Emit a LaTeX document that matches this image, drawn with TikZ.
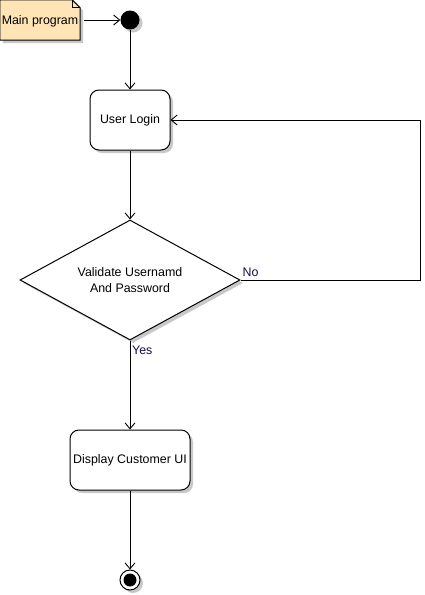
\documentclass[tikz,border=0pt]{standalone}
\usepackage{fontspec}
\setmainfont{Liberation Sans}
\usetikzlibrary{arrows.meta,shapes.geometric,shadows}
\definecolor{notefill}{HTML}{FFE4B5}
\definecolor{shadowgray}{HTML}{C8C8C8}
\definecolor{lbltext}{HTML}{101040}
\tikzset{
  every node/.style={font=\fontsize{12.4}{15}\selectfont},
  myshadow/.style={drop shadow={shadow xshift=3pt,shadow yshift=-3pt,fill=shadowgray,opacity=1}},
  actbox/.style={draw=black,line width=1pt,fill=white,rounded corners=9pt,minimum width=80pt,minimum height=60pt,inner sep=0pt,myshadow},
  decbox/.style={draw=black,line width=1pt,fill=white,diamond,aspect=1.8333,minimum width=220pt,minimum height=120pt,inner sep=0pt,align=center,myshadow},
  flow/.style={draw=black,line width=0.9pt,-{Straight Barb[length=6pt,width=10pt]}},
  lbl/.style={inner sep=1pt,font=\fontsize{12.4}{15}\selectfont,text=lbltext}
}
\begin{document}
\begin{tikzpicture}[x=1pt,y=-1pt]
\useasboundingbox (0,0) rectangle (425,595);
% note
\node[minimum width=80pt,minimum height=40pt,inner sep=0pt] (note) at (40,20) {};
\fill[shadowgray] ([xshift=3pt,yshift=-3pt]note.north west) -- ([xshift=-5pt,yshift=-3pt]note.north east) -- ([xshift=3pt,yshift=-11pt]note.north east) -- ([xshift=3pt,yshift=-3pt]note.south east) -- ([xshift=3pt,yshift=-3pt]note.south west) -- cycle;
\draw[line width=1pt,fill=notefill] (note.north west) -- ([xshift=-8pt]note.north east) -- ([yshift=-8pt]note.north east) -- (note.south east) -- (note.south west) -- cycle;
\draw[line width=0.8pt] ([xshift=-8pt]note.north east) -- ([xshift=-8pt,yshift=-8pt]note.north east) -- ([yshift=-8pt]note.north east);
\node[inner sep=0pt] (notetext) at (40,21) {Main program};
% start
\node[circle,fill=black,minimum size=19pt,inner sep=0pt,myshadow] (start) at (130,20) {};
% boxes
\node[actbox] (login) at (130,120) {User Login};
\node[decbox] (valid) at (130,280) {Validate Usernamd\\[1pt] And Password};
\node[actbox,minimum width=120pt] (disp) at (130,460) {Display Customer UI};
% end
\node[circle,draw=black,line width=1pt,fill=white,minimum size=20pt,inner sep=0pt,myshadow] (end) at (130,580) {};
\node[circle,fill=black,minimum size=13pt,inner sep=0pt] (endin) at (130,580) {};
% connectors
\coordinate (c1) at (420,280);
\coordinate (c2) at (420,120);
\draw[flow] (note.east) ++(4pt,0) -- (start.west);
\draw[flow] (start) -- (login);
\draw[flow] (login) -- (valid.north);
\draw[flow] (valid.east) -- (c1) -- (c2) -- (login.east);
\draw[flow] (valid.south) -- (disp.north);
\draw[flow] (disp) -- (end.north);
% labels
\node[lbl,anchor=south west] (nolbl) at ([xshift=1pt,yshift=2pt]valid.east) {No};
\node[lbl,anchor=north west] (yeslbl) at ([xshift=1pt,yshift=-4pt]valid.south) {Yes};
\end{tikzpicture}
\end{document}
